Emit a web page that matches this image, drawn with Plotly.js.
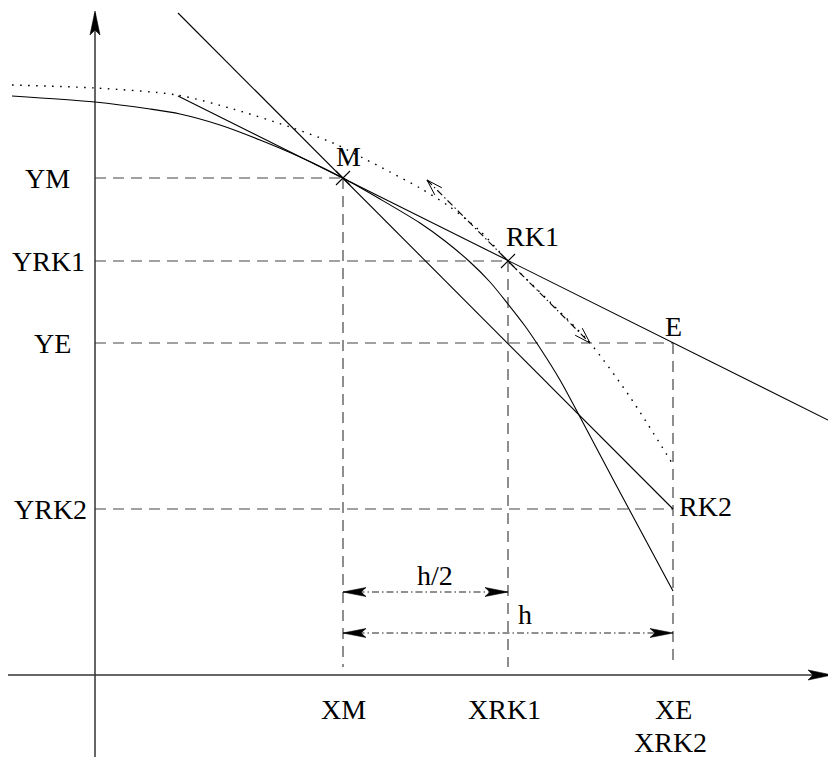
<!DOCTYPE html>
<html>
<head>
<meta charset="utf-8">
<script src="https://cdn.plot.ly/plotly-3.0.1.min.js"></script>
<style>html,body{margin:0;padding:0;background:#fff;}#chart{width:828px;height:760px;}</style>
</head>
<body>
<div id="chart"></div>
<script>
// ---- data (schematic units, origin at the axes crossing, y upward) ----
const pointNames = ['M', 'RK1', 'E', 'RK2'];
const pointX = [248, 413, 578, 578];
const pointY = [497, 414, 332, 166];

const xTickNames = ['XM', 'XRK1', 'XE'];
const xTickPos = [248, 413, 578];
const xExtraName = 'XRK2';

const yTickNames = ['YM', 'YRK1', 'YE', 'YRK2'];
const yTickPos = [497, 414, 332, 166];

// solution curve through M (solid)
const curveX = [-83, 0, 55, 85, 125, 165, 205, 248, 285, 325, 350, 375, 395, 413, 430, 445, 465, 485, 520, 578];
const curveY = [579, 573, 566, 561, 550, 535, 518, 497, 476, 452, 434, 413, 393, 371, 349, 327, 295, 258, 192, 84];

// solution curve through RK1 (dotted)
const dottedX = [-83, 0, 82, 138, 195, 238, 268, 295, 325, 355, 385, 413, 455, 495, 535, 577];
const dottedY = [590, 587, 580, 566, 548, 532, 517, 503, 487, 468, 444, 414, 373, 332, 278, 212];

// slope at M (Euler step) and slope at RK1 carried from M
const eulerX = [83, 578];
const eulerY = [662, 166];
const slopeX = [83, 733];
const slopeY = [579, 255];

// tangent direction at RK1 (double arrow)
const tangentX = [332, 495];
const tangentY = [495, 332];

// step widths
const halfStepLabel = 'h/2';
const stepLabel = 'h';
const halfStepX = [248, 413];
const stepX = [248, 578];
const halfStepY = 83;
const stepY = 42;

// axes extents
const xAxisX = [-87, 737];
const yAxisY = [-82, 662];

// ---- styles ----
const FONT = {family: 'Liberation Serif, Times New Roman, serif', size: 28, color: '#000'};
const INK = '#000';

const traces = [];

// dashed guide lines
const gx = [], gy = [];
const guideEndX = [pointX[0], pointX[1], pointX[2], pointX[3]];
for (let i = 0; i < yTickPos.length; i++) {
  gx.push(0, guideEndX[i], null); gy.push(yTickPos[i], yTickPos[i], null);
}
for (let i = 0; i < xTickPos.length; i++) {
  gx.push(xTickPos[i], xTickPos[i], null); gy.push(pointY[i], 8, null);
}
traces.push({x: gx, y: gy, mode: 'lines', line: {color: '#444', width: 1.2, dash: '11px,7px'}, hoverinfo: 'skip'});

// axes
traces.push({x: [xAxisX[0], xAxisX[1], null, 0, 0], y: [0, 0, null, yAxisY[0], yAxisY[1]],
  mode: 'lines', line: {color: '#333', width: 1.5}, hoverinfo: 'skip'});

// curves
traces.push({x: curveX, y: curveY, mode: 'lines', line: {color: INK, width: 1.1, shape: 'spline', smoothing: 0.8}, hoverinfo: 'skip'});
traces.push({x: dottedX, y: dottedY, mode: 'lines', line: {color: INK, width: 1.4, shape: 'spline', smoothing: 0.8, dash: '1.6px,6.4px'}, hoverinfo: 'skip'});

// straight lines
traces.push({x: eulerX, y: eulerY, mode: 'lines', line: {color: INK, width: 1.1}, hoverinfo: 'skip'});
traces.push({x: slopeX, y: slopeY, mode: 'lines', line: {color: INK, width: 1.1}, hoverinfo: 'skip'});

// tangent at RK1 (dash-dot)
traces.push({x: tangentX, y: tangentY, mode: 'lines', line: {color: INK, width: 1.1, dash: '7px,3px,1.5px,3px'}, hoverinfo: 'skip'});

// step dimension lines
traces.push({x: [halfStepX[0], halfStepX[1], null, stepX[0], stepX[1]], y: [halfStepY, halfStepY, null, stepY, stepY],
  mode: 'lines', line: {color: '#222', width: 1.1, dash: '7px,3px,1.5px,3px'}, hoverinfo: 'skip'});

// cross markers at M and RK1
traces.push({x: pointX.slice(0, 2), y: pointY.slice(0, 2), mode: 'markers',
  marker: {symbol: 'x-thin-open', size: 14, color: INK, line: {color: INK, width: 1.1}}, hoverinfo: 'skip'});

// ---- arrowheads as shapes computed from line ends ----
const shapes = [];
function unit(x0, y0, x1, y1) { const dx = x1 - x0, dy = y1 - y0, l = Math.hypot(dx, dy); return [dx / l, dy / l]; }
function filledHead(tipX, tipY, fromX, fromY, L, W, N) {
  const [ux, uy] = unit(fromX, fromY, tipX, tipY);
  const nx = -uy, ny = ux;
  const bx = tipX - L * ux, by = tipY - L * uy;
  const p = [[tipX, tipY], [bx + W * nx, by + W * ny], [tipX - N * ux, tipY - N * uy], [bx - W * nx, by - W * ny]];
  shapes.push({type: 'path', xref: 'x', yref: 'y', path: 'M' + p.map(q => q[0].toFixed(2) + ',' + q[1].toFixed(2)).join('L') + 'Z',
    fillcolor: INK, line: {color: INK, width: 0.6}});
}
function openHead(tipX, tipY, fromX, fromY, L, W) {
  const [ux, uy] = unit(fromX, fromY, tipX, tipY);
  const nx = -uy, ny = ux;
  const bx = tipX - L * ux, by = tipY - L * uy;
  shapes.push({type: 'path', xref: 'x', yref: 'y',
    path: 'M' + (bx + W * nx).toFixed(2) + ',' + (by + W * ny).toFixed(2) + 'L' + tipX + ',' + tipY + 'L' + (bx - W * nx).toFixed(2) + ',' + (by - W * ny).toFixed(2),
    line: {color: INK, width: 1}});
}
// axis arrows
filledHead(0, yAxisY[1] + 2, 0, 0, 24, 5, 19);
filledHead(xAxisX[1], 0, 0, 0, 24, 5, 19);
// step arrows
filledHead(halfStepX[0], halfStepY, halfStepX[1], halfStepY, 23, 4.5, 18);
filledHead(halfStepX[1], halfStepY, halfStepX[0], halfStepY, 23, 4.5, 18);
filledHead(stepX[0], stepY, stepX[1], stepY, 23, 4.5, 18);
filledHead(stepX[1], stepY, stepX[0], stepY, 23, 4.5, 18);
// tangent arrows
openHead(tangentX[0], tangentY[0], tangentX[1], tangentY[1], 16, 5);
openHead(tangentX[1], tangentY[1], tangentX[0], tangentY[0], 16, 5);

// ---- labels ----
const annotations = [];
function label(text, x, y) {
  annotations.push({text: text, x: x, y: y, xref: 'x', yref: 'y', showarrow: false, xanchor: 'center', yanchor: 'middle', font: FONT});
}
const yLabelX = [-48, -47, -43, -45];
yTickNames.forEach((t, i) => label(t, yLabelX[i], yTickPos[i]));
const xLabelDx = [0, -4, 0];
xTickNames.forEach((t, i) => label(t, xTickPos[i] + xLabelDx[i], -34));
label(xExtraName, xTickPos[2] - 3, -67);
const ptDx = [5, 24, 0, 32];
const ptDy = [22, 25, 17, 3];
pointNames.forEach((t, i) => label(t, pointX[i] + ptDx[i], pointY[i] + ptDy[i]));
label(halfStepLabel, (halfStepX[0] + halfStepX[1]) / 2 + 9, halfStepY + 17);
label(stepLabel, (stepX[0] + stepX[1]) / 2 + 17, stepY + 19);

const layout = {
  width: 828, height: 760,
  margin: {l: 0, r: 0, t: 0, b: 0},
  paper_bgcolor: '#fff', plot_bgcolor: '#fff',
  showlegend: false,
  xaxis: {range: [-95, 733], visible: false, fixedrange: true},
  yaxis: {range: [-85, 675], visible: false, fixedrange: true},
  shapes: shapes,
  annotations: annotations
};
Plotly.newPlot('chart', traces, layout, {staticPlot: true, displayModeBar: false});
</script>
</body>
</html>
